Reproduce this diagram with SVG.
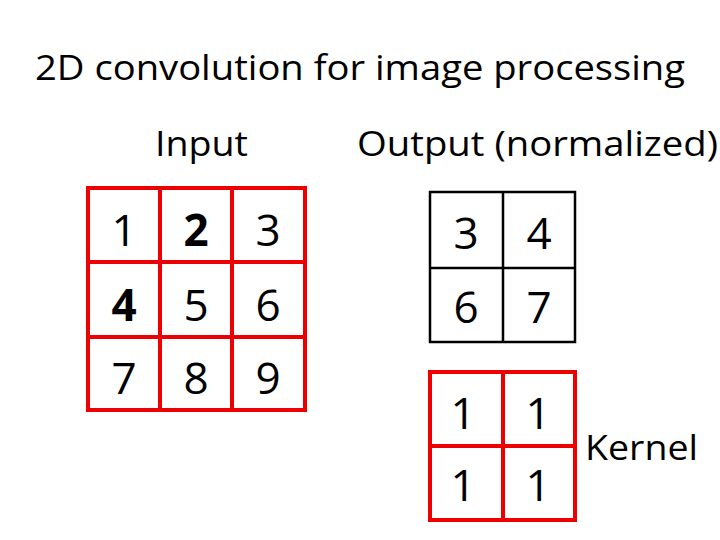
<svg xmlns="http://www.w3.org/2000/svg" width="720" height="540" viewBox="0 0 720 540">
<style>
text{font-family:"Open Sans","Liberation Sans",sans-serif;fill:#000}
.t{font-size:35px}
.h{font-size:35px}
.n{font-size:44px;text-anchor:middle}
.b{font-weight:bold}
.red{fill:none;stroke:#e00;stroke-width:4}
.blk{fill:none;stroke:#000;stroke-width:2.5}
</style>
<rect width="720" height="540" fill="#fff"/>
<text class="t" x="35" y="80" textLength="650" lengthAdjust="spacingAndGlyphs">2D convolution for image processing</text>
<text class="h" x="155" y="156" textLength="93" lengthAdjust="spacingAndGlyphs">Input</text>
<text class="h" x="357" y="156" textLength="361" lengthAdjust="spacingAndGlyphs">Output (normalized)</text>
<g id="input">
<rect class="red" x="88" y="188" width="217" height="222"/>
<path class="red" d="M160 188V410M232 188V410M88 262H305M88 337H305"/>
<text class="n" x="124" y="246">1</text><text class="n b" x="196" y="246">2</text><text class="n" x="268" y="246">3</text>
<text class="n b" x="124" y="321">4</text><text class="n" x="196" y="321">5</text><text class="n" x="268" y="321">6</text>
<text class="n" x="124" y="394">7</text><text class="n" x="196" y="394">8</text><text class="n" x="268" y="394">9</text>
</g>
<g id="output">
<rect class="blk" x="430" y="192" width="145" height="150"/>
<path class="blk" d="M503 192V342M430 268H575"/>
<text class="n" x="466" y="249">3</text><text class="n" x="539" y="249">4</text>
<text class="n" x="466" y="323">6</text><text class="n" x="539" y="323">7</text>
</g>
<g id="kernel">
<rect class="red" x="430" y="372" width="145" height="148"/>
<path class="red" d="M503 372V520M430 446H575"/>
<text class="n" x="463" y="429">1</text><text class="n" x="538" y="429">1</text>
<text class="n" x="463" y="501">1</text><text class="n" x="538" y="501">1</text>
<text class="h" x="585" y="460" textLength="113" lengthAdjust="spacingAndGlyphs">Kernel</text>
</g>
</svg>
